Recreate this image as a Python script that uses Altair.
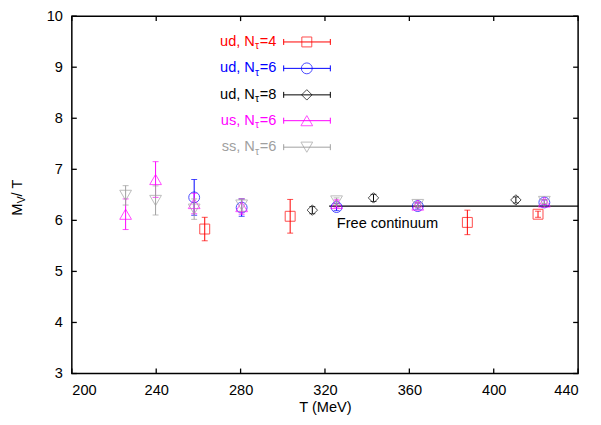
import altair as alt
import pandas as pd

FONT = "Liberation Sans"
FS = 14.7

# ---------------- data ----------------
series = ["ud4", "ud6", "ud8", "us6", "ss6"]
colors = ["#ff0000", "#0000ff", "#000000", "#ff00ff", "#a0a0a0"]
shapes = ["square", "circle", "diamond", "triangle-up", "triangle-down"]
sizes = [100, 120, 110, 140, 140]
legend_main = ["ud, N", "ud, N", "ud, N", "us, N", "ss, N"]
legend_sub = ["τ", "τ", "τ", "τ", "τ"]
legend_tail = ["=4", "=6", "=8", "=6", "=6"]

T_ud4 = [263.0, 303.5, 387.5, 421.0]
M_ud4 = [5.83, 6.08, 5.96, 6.12]
E_ud4 = [0.23, 0.33, 0.24, 0.06]

T_ud6 = [258.0, 280.5, 325.5, 364.0, 424.0]
M_ud6 = [6.45, 6.25, 6.26, 6.28, 6.35]
E_ud6 = [0.35, 0.17, 0.07, 0.06, 0.05]

T_ud8 = [314.0, 343.0, 410.5]
M_ud8 = [6.20, 6.44, 6.40]
E_ud8 = [0.07, 0.07, 0.06]

T_us6 = [225.5, 239.7, 258.0, 280.5, 325.5, 364.0, 424.0]
M_us6 = [6.12, 6.80, 6.33, 6.27, 6.33, 6.30, 6.36]
E_us6 = [0.30, 0.35, 0.20, 0.15, 0.07, 0.05, 0.05]

T_ss6 = [225.5, 239.7, 258.0, 280.5, 325.5, 364.0, 424.0]
M_ss6 = [6.49, 6.39, 6.22, 6.30, 6.38, 6.31, 6.37]
E_ss6 = [0.19, 0.285, 0.20, 0.12, 0.06, 0.05, 0.04]

cont_T = [322.0, 440.0]
cont_M = 6.28
cont_label = "Free continuum"
cont_label_T = 325.6
cont_label_M = 5.85

x_ticks = [200, 240, 280, 320, 360, 400, 440]
y_ticks = [3, 4, 5, 6, 7, 8, 9, 10]

T_all = [T_ud4, T_ud6, T_ud8, T_us6, T_ss6]
M_all = [M_ud4, M_ud6, M_ud8, M_us6, M_ss6]
E_all = [E_ud4, E_ud6, E_ud8, E_us6, E_ss6]

rows = []
for s, Ts, Ms, Es in zip(series, T_all, M_all, E_all):
    for t, m, e in zip(Ts, Ms, Es):
        rows.append({"s": s, "T": t, "M": m, "lo": m - e, "hi": m + e})
df = pd.DataFrame(rows)

# ---------------- layout ----------------
W, H = 510, 360
xscale = alt.Scale(domain=[200, 440], nice=False, zero=False)
yscale = alt.Scale(domain=[3, 10], nice=False, zero=False)
axis_style = dict(ticks=False, domain=False, grid=False,
                  labelFont=FONT, labelFontSize=FS, labelColor="black",
                  titleFont=FONT, titleFontSize=FS, titleColor="black",
                  titleFontWeight="normal")
xaxis = alt.Axis(values=x_ticks, labelPadding=9, title="T (MeV)", titlePadding=3,
                 **axis_style)
yaxis = alt.Axis(values=y_ticks, labelPadding=9.5, title=None, **axis_style)


def X(field):
    return alt.X(field, type="quantitative", scale=xscale, axis=xaxis)


def Y(field):
    return alt.Y(field, type="quantitative", scale=yscale, axis=yaxis)


layers = []

# free continuum line
cont_df = pd.DataFrame({"T": [cont_T[0]], "T2": [cont_T[1]], "M": [cont_M]})
layers.append(alt.Chart(cont_df).mark_rule(color="black", strokeWidth=1.2).encode(
    x=X("T"), x2="T2:Q", y=Y("M")))
lab_df = pd.DataFrame({"T": [cont_label_T], "M": [cont_label_M], "t": [cont_label]})
layers.append(alt.Chart(lab_df).mark_text(align="left", baseline="alphabetic",
                                          font=FONT, fontSize=FS, color="black").encode(
    x=X("T"), y=Y("M"), text="t:N"))

# per-series error bars and points
for s, c, sh, sz in zip(series, colors, shapes, sizes):
    sdf = df[df.s == s]
    base = alt.Chart(sdf)
    layers.append(base.mark_rule(color=c, strokeWidth=1).encode(
        x=X("T"), y=Y("lo"), y2="hi:Q"))
    layers.append(base.mark_tick(color=c, orient="horizontal", size=6, thickness=1).encode(
        x=X("T"), y=Y("lo")))
    layers.append(base.mark_tick(color=c, orient="horizontal", size=6, thickness=1).encode(
        x=X("T"), y=Y("hi")))
    layers.append(base.mark_point(shape=sh, color=c, filled=False, size=sz, strokeWidth=1).encode(
        x=X("T"), y=Y("M")))

# inward ticks on all four sides
xt_df = pd.DataFrame({"T": x_ticks})
yt_df = pd.DataFrame({"M": y_ticks})
TL = 5
layers.append(alt.Chart(xt_df).mark_rule(color="black", strokeWidth=1.3).encode(
    x=X("T"), y=alt.value(H), y2=alt.value(H - TL)))
layers.append(alt.Chart(xt_df).mark_rule(color="black", strokeWidth=1.3).encode(
    x=X("T"), y=alt.value(0), y2=alt.value(TL)))
layers.append(alt.Chart(yt_df).mark_rule(color="black", strokeWidth=1.3).encode(
    y=Y("M"), x=alt.value(0), x2=alt.value(TL)))
layers.append(alt.Chart(yt_df).mark_rule(color="black", strokeWidth=1.3).encode(
    y=Y("M"), x=alt.value(W), x2=alt.value(W - TL)))

# legend (pixel layout)
one = pd.DataFrame({"a": [0]})
row_y = [26.0, 52.6, 79.3, 105.3, 132.0]
N_end = 184.4
L0, L1, LM = 213.4, 260.4, 236.7
for i in range(len(series)):
    ry = row_y[i]
    c = colors[i]
    b = alt.Chart(one)
    layers.append(b.mark_text(align="right", baseline="middle", font=FONT, fontSize=FS,
                              color=c, text=legend_main[i]).encode(
        x=alt.value(N_end), y=alt.value(ry)))
    layers.append(b.mark_text(align="left", baseline="middle", font=FONT, fontSize=10.5,
                              color=c, text=legend_sub[i]).encode(
        x=alt.value(N_end + 0.2), y=alt.value(ry + 4.5)))
    layers.append(b.mark_text(align="left", baseline="middle", font=FONT, fontSize=FS,
                              color=c, text=legend_tail[i]).encode(
        x=alt.value(N_end + 4.8), y=alt.value(ry)))
    layers.append(b.mark_rule(color=c, strokeWidth=1).encode(
        x=alt.value(L0), x2=alt.value(L1), y=alt.value(ry)))
    layers.append(b.mark_rule(color=c, strokeWidth=1).encode(
        x=alt.value(L0), y=alt.value(ry - 3), y2=alt.value(ry + 3)))
    layers.append(b.mark_rule(color=c, strokeWidth=1).encode(
        x=alt.value(L1), y=alt.value(ry - 3), y2=alt.value(ry + 3)))
    layers.append(b.mark_point(shape=shapes[i], color=c, filled=False, size=sizes[i],
                               strokeWidth=1).encode(
        x=alt.value(LM), y=alt.value(ry)))

# y-axis title with subscript (rotated)
TY = 201.0
TX = -54.3
b = alt.Chart(one)
layers.append(b.mark_text(angle=270, align="left", baseline="middle", font=FONT,
                          fontSize=FS, color="black", text="M").encode(
    x=alt.value(TX), y=alt.value(TY)))
layers.append(b.mark_text(angle=270, align="left", baseline="middle", font=FONT,
                          fontSize=10.5, color="black", text="V", dx=12.4, dy=4.5).encode(
    x=alt.value(TX), y=alt.value(TY)))
layers.append(b.mark_text(angle=270, align="left", baseline="middle", font=FONT,
                          fontSize=FS, color="black", text=" / T", dx=19.4).encode(
    x=alt.value(TX), y=alt.value(TY)))

chart = alt.layer(*layers).properties(
    width=W, height=H,
    autosize=alt.AutoSizeParams(type="none"),
    padding={"left": 64.3, "top": 6.7, "right": 15, "bottom": 45},
    background="white",
).configure_view(
    stroke="black", strokeWidth=1.5
)

chart.save("out.html", embed_options={"renderer": "svg", "actions": False})
